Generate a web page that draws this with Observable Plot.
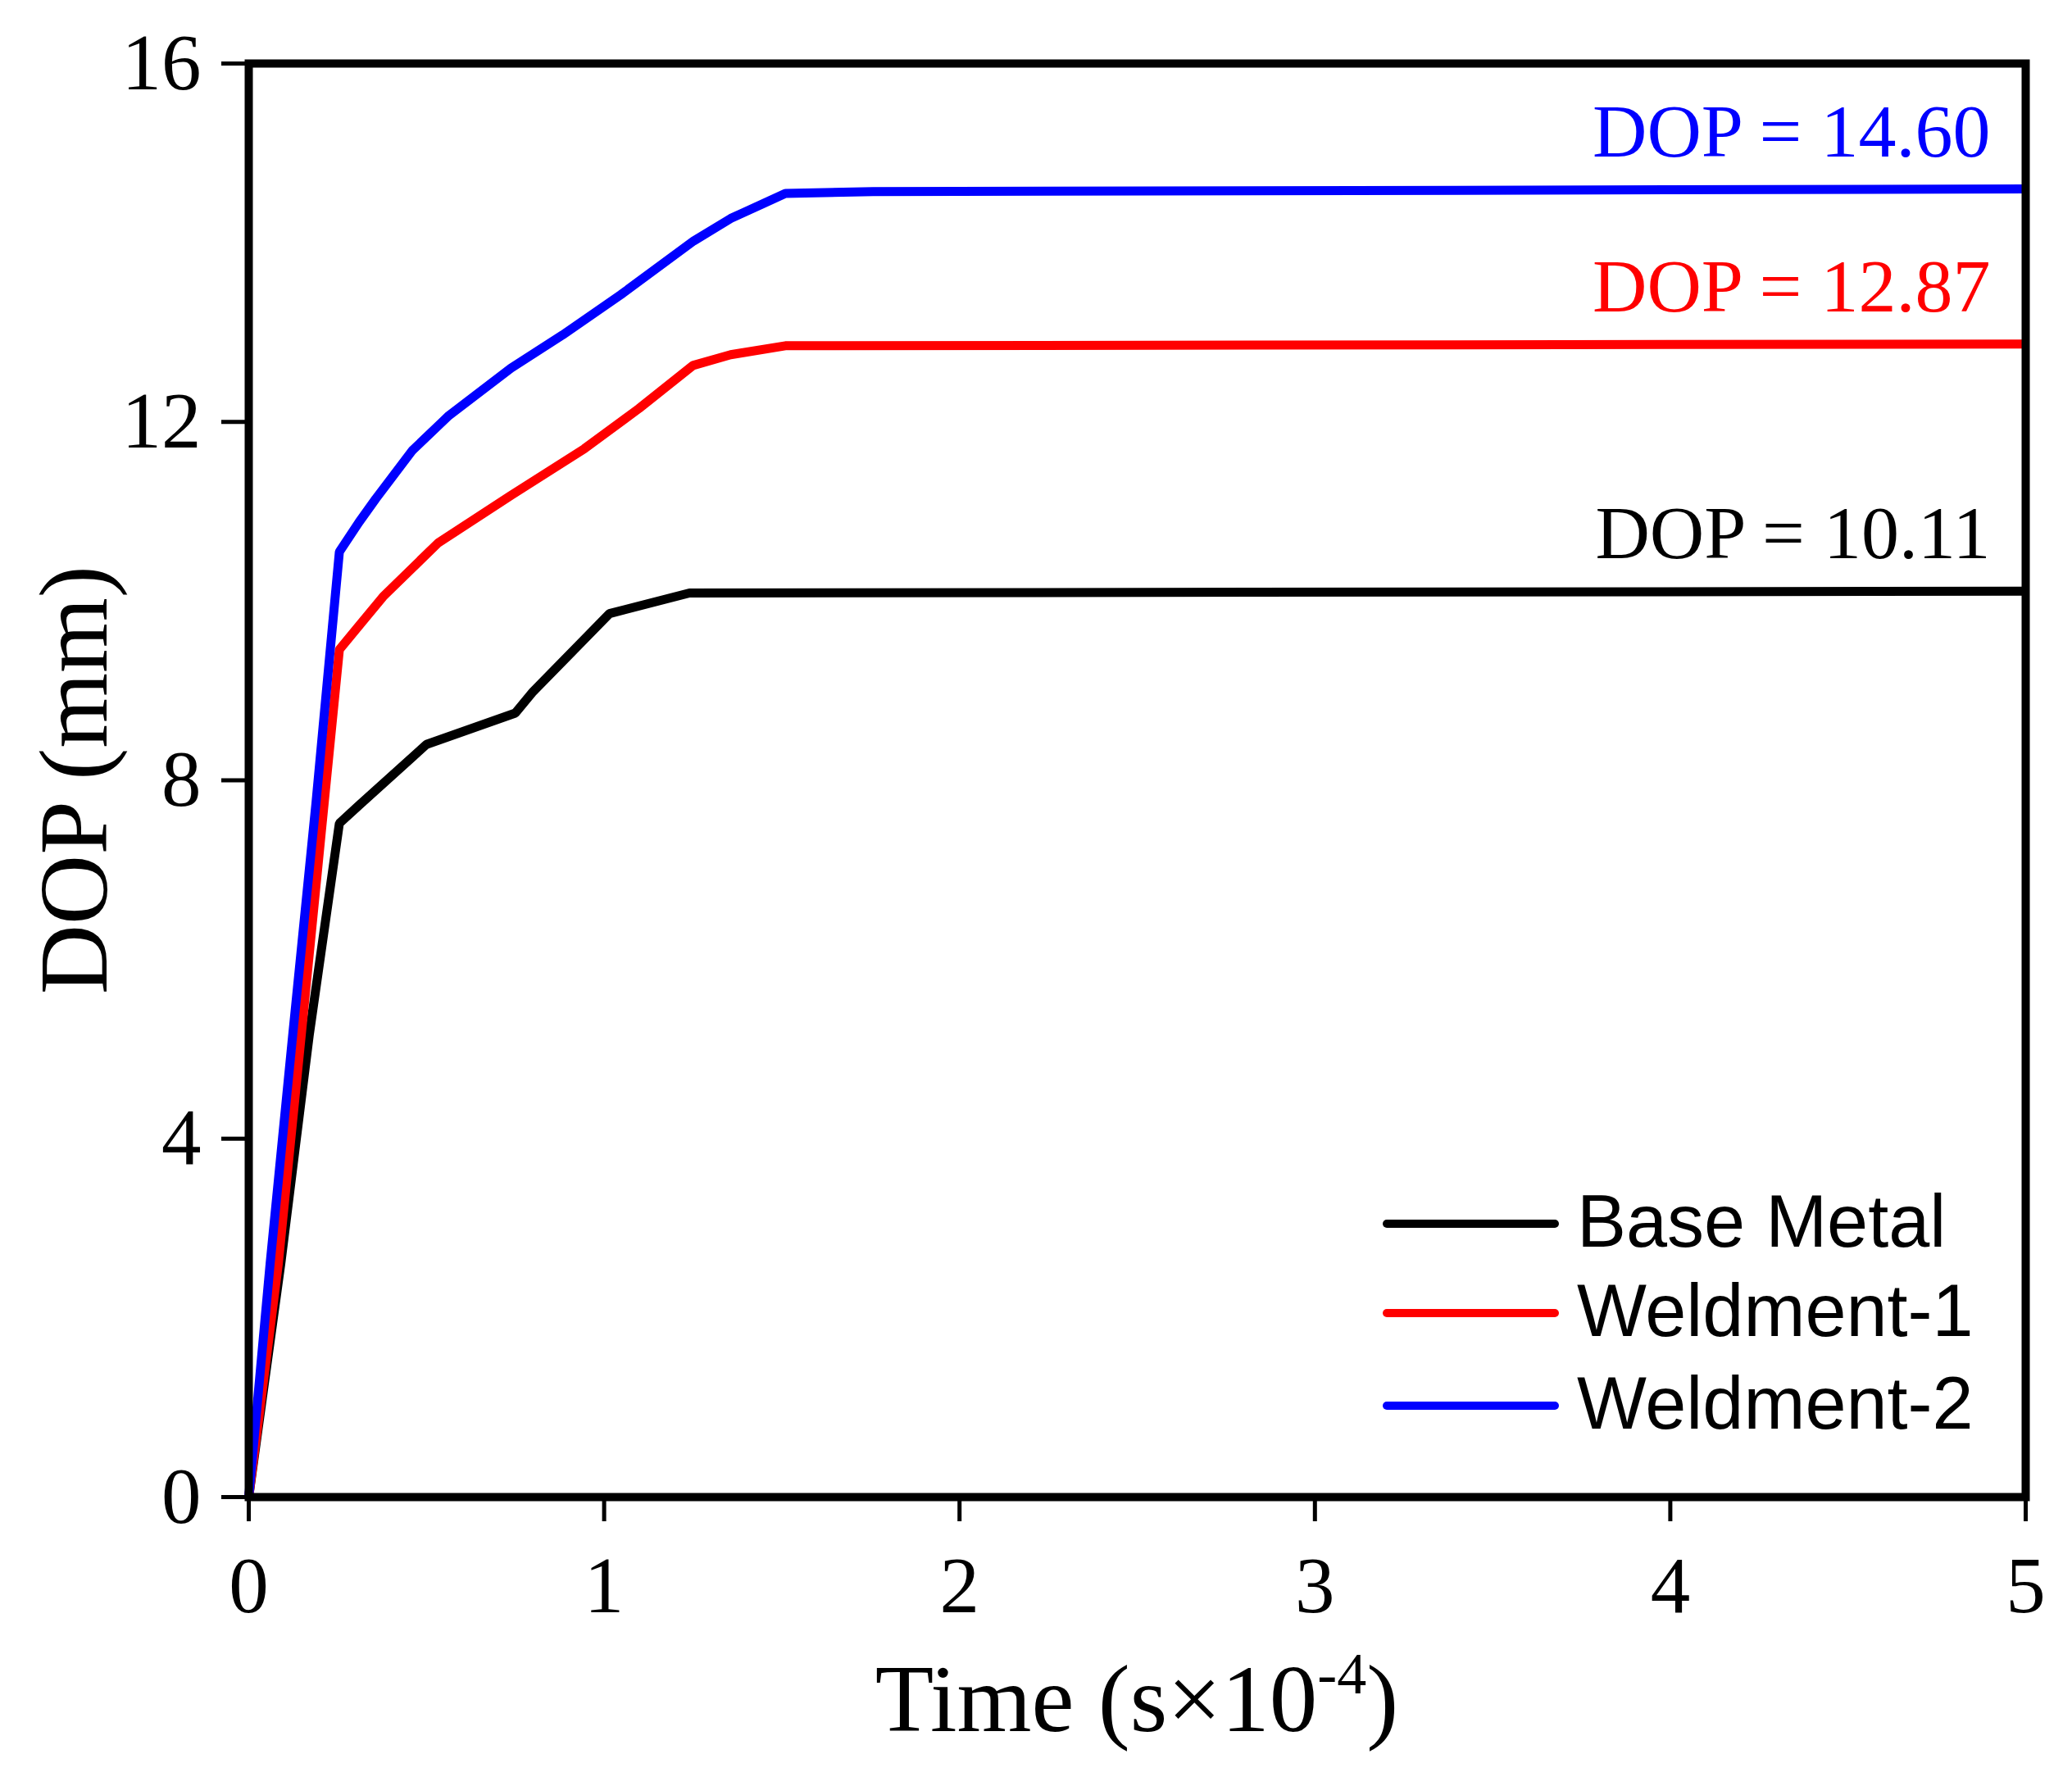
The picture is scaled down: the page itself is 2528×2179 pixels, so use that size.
<!DOCTYPE html>
<html>
<head>
<meta charset="utf-8">
<script src="https://cdn.jsdelivr.net/npm/d3@7"></script>
<script src="https://cdn.jsdelivr.net/npm/@observablehq/plot@0.6"></script>
<style>
  html, body { margin: 0; padding: 0; background: #fff; }
  #chart { position: relative; width: 2528px; height: 2179px; }
</style>
</head>
<body>
<div id="chart"></div>
<script>
// ---- data ----
const seriesNames = ["Base Metal", "Weldment-1", "Weldment-2"];
const seriesColors = ["#000000", "#ff0000", "#0000ff"];

const baseTime = [0, 0.09, 0.17, 0.255, 0.31, 0.5, 0.75, 0.8, 1.015, 1.24, 5];
const baseDop  = [0, 2.6, 5.15, 7.52, 7.72, 8.4, 8.75, 8.99, 9.86, 10.09, 10.11];

const weld1Time = [0, 0.083, 0.148, 0.212, 0.255, 0.378, 0.533, 0.738, 0.944, 1.098, 1.25, 1.356, 1.51, 5];
const weld1Dop  = [0, 2.6, 5.17, 7.74, 9.46, 10.05, 10.65, 11.18, 11.7, 12.15, 12.63, 12.75, 12.85, 12.87];

const weld2Time = [0, 0.06, 0.124, 0.189, 0.255, 0.31, 0.357, 0.46, 0.563, 0.738, 0.883, 1.047, 1.252, 1.356, 1.51, 1.757, 5];
const weld2Dop  = [0, 2.6, 5.17, 7.74, 10.55, 10.88, 11.14, 11.68, 12.07, 12.6, 12.97, 13.42, 14.02, 14.27, 14.55, 14.57, 14.6];

const finalDop = [10.11, 12.87, 14.60];
const finalLabels = ["DOP = 10.11", "DOP = 12.87", "DOP = 14.60"];

const xTicks = [0, 1, 2, 3, 4, 5];
const yTicks = [0, 4, 8, 12, 16];

// ---- build tables ----
const seriesData = [[baseTime, baseDop], [weld1Time, weld1Dop], [weld2Time, weld2Dop]];
const rows = [];
seriesData.forEach(([ts, vs], i) => ts.forEach((t, j) => rows.push({t, v: vs[j], series: seriesNames[i]})));
const annots = finalLabels.map((label, i) => ({label, v: finalDop[i], series: seriesNames[i]}));

const W = 2528, H = 2179;
const mL = 303, mR = 57, mT = 77, mB = 353;
const serif = "'Liberation Serif', 'Times New Roman', Times, serif";
const sans = "'Liberation Sans', Arial, Helvetica, sans-serif";

const plot = Plot.plot({
  width: W, height: H,
  marginLeft: mL, marginRight: mR, marginTop: mT, marginBottom: mB,
  style: {background: "white", color: "black", fontFamily: serif, overflow: "visible"},
  x: {domain: [0, 5]},
  y: {domain: [0, 16]},
  color: {domain: seriesNames, range: seriesColors},
  marks: [
    Plot.line(rows, {x: "t", y: "v", z: "series", stroke: "series", strokeWidth: 11, strokeLinejoin: "miter", strokeLinecap: "butt"}),
    Plot.text(annots, {
      y: "v", text: "label", fill: "series", frameAnchor: "right",
      textAnchor: "end", lineAnchor: "bottom", dx: -43, dy: -40,
      fontSize: 92, fontFamily: serif
    }),
    Plot.frame({stroke: "black", strokeWidth: 10}),
    Plot.axisX({ticks: xTicks, tickFormat: d => String(d), tickSize: 30, tickPadding: 42,
      fontSize: 97, strokeWidth: 5, label: null}),
    Plot.axisY({ticks: yTicks, tickFormat: d => String(d), tickSize: 33, tickPadding: 25,
      fontSize: 97, strokeWidth: 5, label: null})
  ]
});

document.getElementById("chart").appendChild(plot);
const svg = d3.select(plot);

// axis titles
const xt = svg.append("text")
  .attr("x", mL + (W - mL - mR) / 2).attr("y", 2112)
  .attr("text-anchor", "middle").attr("font-family", serif).attr("font-size", 117).attr("fill", "black");
xt.append("tspan").text("Time (s×10");
xt.append("tspan").attr("font-size", 72).attr("dy", -46).text("-4");
xt.append("tspan").attr("font-size", 117).attr("dy", 46).text(")");

svg.append("text")
  .attr("transform", `translate(130,${mT + (H - mT - mB) / 2}) rotate(-90)`)
  .attr("text-anchor", "middle").attr("font-family", serif).attr("font-size", 118).attr("fill", "black")
  .text("DOP (mm)");

// legend
const legendY = [1493, 1602, 1715];
const lg = svg.append("g");
seriesNames.forEach((name, i) => {
  lg.append("line").attr("x1", 1692).attr("x2", 1897).attr("y1", legendY[i]).attr("y2", legendY[i])
    .attr("stroke", seriesColors[i]).attr("stroke-width", 10).attr("stroke-linecap", "round");
  lg.append("text").attr("x", 1924).attr("y", legendY[i] + 28).attr("text-anchor", "start")
    .attr("font-family", sans).attr("font-size", 90).attr("fill", "black").text(name);
});
</script>
</body>
</html>
